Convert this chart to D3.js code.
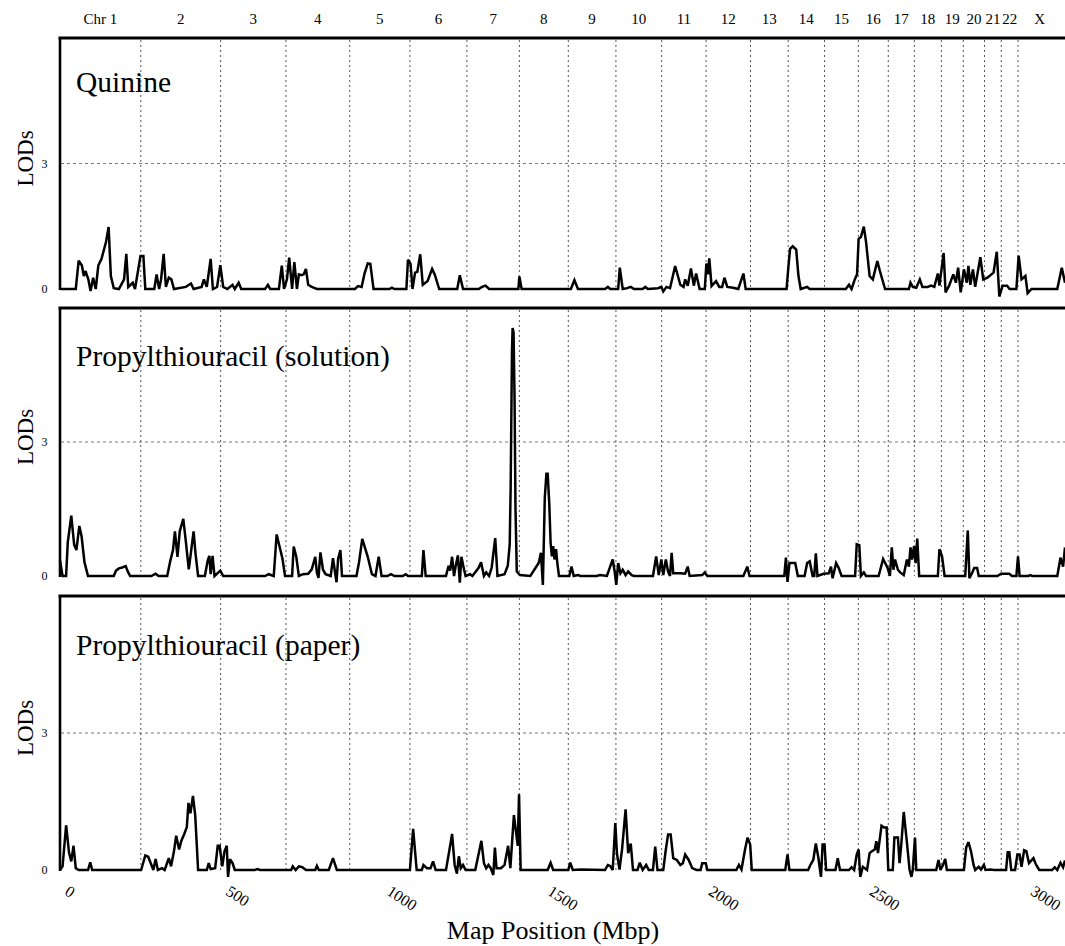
<html>
<style>
  body { margin: 0; background: #fff; }
  svg { display: block; background: #fff; }
  text { font-family: "Liberation Serif", "DejaVu Serif", serif; fill: #000; }
  .trace { fill: none; stroke: #000; stroke-width: 2.5px; stroke-linejoin: miter; stroke-miterlimit: 3; }
  .chrLine { stroke: #555; stroke-width: 1px; stroke-dasharray: 2,3; }
  .lodGrid { stroke: #777; stroke-width: 1px; stroke-dasharray: 3,3; }
  .frame { stroke: #000; fill: none; }
</style>
<script src="https://d3js.org/d3.v7.min.js"></script>
<body>
<div id="container"></div>
<script>

// chromosome ends on the map (Mbp)
const chrEnds = [241, 489, 692, 890, 1077, 1254, 1417, 1569, 1717, 1859, 1997, 2135,
                 2252, 2365, 2470, 2563, 2644, 2728, 2796, 2862, 2914, 2966, 3100];
const chrNames = ["Chr 1","2","3","4","5","6","7","8","9","10","11","12","13","14","15",
                  "16","17","18","19","20","21","22","X"];
const xTicks = [0, 500, 1000, 1500, 2000, 2500, 3000];
const yTicks = [0, 3];
const panelTitles = ["Quinine", "Propylthiouracil (solution)", "Propylthiouracil (paper)"];

// LOD traces: [map position Mbp, LOD]
const quinine = [
[-10,0],[39,0],[48,0.68],[58,0.56],[64,0.31],[69,0.43],[78,0.23],[85,-0.05],[93,0.27],[101,0],[109,0.56],[119,0.72],[133,1.13],[141,1.48],[148,0.31],[157,0.02],[173,0],[189,0.23],[196,0.84],[202,0.05],[216,0.15],[223,0],[240,0.79],[249,0.79],[255,0],[283,0],[290,0.35],[298,0],[304,0.23],[312,0.84],[319,0.05],[328,0.27],[336,0.23],[344,0],[381,0.05],[397,0.13],[405,0],[430,0.05],[437,0.23],[446,0.05],[458,0.72],[465,0],[478,0.05],[488,0.57],[497,0.05],[510,0],[526,0.1],[533,0],[545,0.15],[553,0],[627,0],[636,0.1],[643,0],[670,0],[679,0.56],[686,0],[695,0.23],[702,0.75],[711,0],[718,0.64],[726,0],[732,0.35],[740,0.33],[747,0.35],[754,0.48],[761,0.1],[772,0.05],[788,0],[906,0],[916,0.07],[927,0.05],[936,0.37],[946,0.61],[954,0.6],[964,0],[1013,0],[1021,0.03],[1029,0],[1066,0],[1071,0.7],[1079,0.6],[1085,0],[1093,0.39],[1100,0.41],[1109,0.83],[1117,0.1],[1125,0.15],[1132,0.19],[1146,0.48],[1154,0.35],[1168,0],[1224,0],[1232,0.33],[1242,0],[1291,0],[1301,0.05],[1312,0.08],[1323,0],[1414,0],[1417,0.3],[1424,0],
[1577,0],[1588,0.21],[1599,0],[1683,0],[1692,0.05],[1699,0],[1724,0],[1729,0.51],[1738,0],[1752,0.02],[1763,0.05],[1773,0],[1800,0],[1808,0.05],[1816,0],[1848,0.02],[1858,0.05],[1864,-0.06],[1874,0.05],[1885,0.02],[1901,0.55],[1917,0.1],[1927,0.05],[1932,0.23],[1940,0.08],[1950,0.49],[1959,0.08],[1966,0.37],[1977,0],[1993,0],[1998,0.61],[2003,0.35],[2007,0.73],[2014,0.07],[2028,0.19],[2038,0.05],[2047,0.05],[2054,0.27],[2063,0.05],[2081,0.03],[2097,0],[2113,0.37],[2120,0],[2247,0],[2253,0.55],[2258,0.96],[2266,1.02],[2277,0.94],[2284,0.31],[2291,0],[2303,0.03],[2311,0.05],[2319,0],[2431,0],[2441,0.1],[2449,0],[2459,0.23],[2466,0.35],[2471,1.2],[2478,1.24],[2487,1.49],[2494,1.12],[2505,0.31],[2515,0.23],[2529,0.67],[2537,0.43],[2553,0],[2627,0],[2632,0.15],[2639,0.05],[2650,0.03],[2661,0.23],[2669,0.05],[2685,0.05],[2696,0.08],[2706,0.05],[2717,0.37],[2722,0.08],[2735,0.86],[2741,-0.08],[2752,0.08],[2765,0.35],[2773,0.15],[2780,0.51],[2788,-0.08],[2798,0.47],[2807,0.15],[2812,0.55],[2818,0.1],[2826,0.47],[2833,0.05],[2849,0.76],[2858,0.23],[2871,0.27],[2890,0.39],[2900,0.89],[2908,-0.18],[2918,0.08],[2932,0.08],[2940,0],[2961,0],[2968,0.8],[2977,0.23],[2989,0.31],[2996,-0.1],[3008,0],[3088,0],[3102,0.51],[3112,0.15]
];

const ptcSolution = [
[-10,0.35],[-2,0],[9,0],[14,0.74],[25,1.35],[34,0.7],[41,0.58],[50,1.12],[57,0.89],[66,0.31],[77,0],[157,0],[164,0.12],[173,0.17],[183,0.19],[194,0.22],[202,0.08],[208,0],[274,0],[287,0.05],[296,0],[323,0],[333,0.35],[341,0.58],[347,1.0],[355,0.43],[362,1.0],[373,1.28],[381,0.77],[390,0.15],[397,0.54],[405,1.0],[411,0.5],[419,0],[440,0],[449,0.35],[454,0.45],[458,0.04],[464,0.45],[470,0],[488,0.12],[497,0],[627,0],[638,0.04],[654,0],[663,0.93],[672,0.66],[681,0.39],[689,0],[711,0],[716,0.66],[724,0.43],[732,0],[745,0.04],[761,0.05],[772,0.15],[783,0.43],[788,0.08],[793,-0.04],[799,0.53],[807,0.14],[815,0.04],[831,0],[838,0.4],[843,0.15],[849,-0.14],[854,0.39],[861,0.58],[866,0],[911,0],[919,0.31],[929,0.83],[938,0.62],[946,0.43],[959,0.04],[970,0],[980,0.43],[989,0],[1007,0],[1018,0.04],[1029,0],[1055,0],[1064,0.04],[1071,0],[1114,0],[1119,0.58],[1126,0],[1189,0],[1197,0.23],[1202,0.12],[1208,0.43],[1214,0],[1219,0.22],[1226,0.46],[1232,-0.15],[1237,0.43],[1245,0.15],[1250,0],[1264,0.04],[1271,0],[1291,0.19],[1298,0.31],[1307,0],[1314,0.08],[1323,0],[1331,0.19],[1342,0.85],[1349,0],[1371,0.04],[1381,0.23],[1387,0.7],[1390,2.0],[1394,5.0],[1396,5.55],[1399,5.45],[1402,4.0],[1405,1.5],[1409,0.1],[1419,0.02],[1451,0],[1477,0.29],[1484,0.52],[1490,-0.2],[1496,1.75],[1501,2.29],[1505,2.29],[1510,1.6],[1514,0.75],[1518,0.44],[1522,0.67],[1526,0.37],[1531,0.6],[1535,0.29],[1540,0],[1572,0],[1579,0.21],[1586,0],[1599,0.02],[1607,0],[1657,0],[1667,0.02],[1689,0],[1699,0.21],[1707,0.37],[1713,0.1],[1718,-0.2],[1724,0.29],[1731,0.06],[1738,0.14],[1747,0.02],[1755,0.1],[1766,0.02],[1773,0],[1832,0],[1842,0.44],[1850,0.02],[1858,0.37],[1864,0.02],[1872,0.37],[1879,0.1],[1885,0],[1890,0.52],[1895,0.06],[1917,0.06],[1932,0.05],[1940,0.21],[1946,0],[1985,0.02],[1993,0.08],[2001,0],[2113,0],[2125,0.21],[2132,0],[2240,0],[2245,0.41],[2250,-0.13],[2256,0.29],[2266,0.29],[2274,0.29],[2282,0],[2303,0],[2311,0.29],[2319,0.33],[2328,0],[2333,0],[2338,0.51],[2343,0],[2362,0.05],[2378,0.06],[2385,0.21],[2390,-0.05],[2401,0.29],[2409,0.18],[2418,0],[2460,0],[2465,0.71],[2473,0.69],[2478,0],[2487,0.08],[2494,0],[2533,0],[2547,0.38],[2561,0.18],[2568,0],[2574,0.64],[2579,0.14],[2584,0.37],[2593,0.14],[2600,0.08],[2611,0.02],[2621,0.37],[2627,0.21],[2632,0.64],[2637,0.37],[2643,0.67],[2648,0.29],[2653,0.84],[2659,0],[2717,0],[2722,0.6],[2730,0.44],[2738,0],[2802,0],[2810,1.02],[2815,-0.05],[2823,0.06],[2830,0.18],[2839,0.18],[2844,0],[2902,0],[2913,0.05],[2939,0.05],[2947,0],[2961,0],[2966,0.44],[2971,0],[2998,0],[3005,0.02],[3010,0],[3088,0],[3098,0.41],[3106,0.21],[3112,0.64]
];

const ptcPaper = [
[-10,0],[-2,0.08],[9,0.98],[18,0.38],[25,0.19],[32,0.53],[39,0.04],[48,0],[77,0],[84,0.17],[90,0],[242,0],[255,0.32],[264,0.29],[274,0.11],[280,0],[287,0.24],[294,0],[307,0.04],[315,0],[328,0.26],[335,0.08],[344,0.41],[351,0.75],[360,0.45],[367,0.64],[376,0.79],[384,0.94],[389,1.47],[395,1.24],[403,1.62],[410,1.2],[419,0],[446,0],[452,0.15],[458,0.02],[472,0.04],[480,0.53],[486,0.53],[494,0.08],[501,0.41],[508,0.53],[512,-0.15],[518,0.24],[526,0.15],[533,0],[595,0],[604,0.02],[611,0],[708,0],[713,0.08],[722,0],[732,0.08],[743,0.06],[754,0],[783,0],[788,0.09],[794,0],[825,0],[838,0.26],[850,0],[1077,0],[1087,0.9],[1098,0],[1114,0],[1119,0.11],[1130,0.04],[1141,0.04],[1149,0.19],[1157,0],[1189,0],[1200,0.45],[1208,0.79],[1216,0.11],[1223,-0.08],[1229,0.3],[1235,0.04],[1242,0.11],[1250,0],[1280,0],[1299,0.64],[1307,0.15],[1314,0.04],[1321,0.11],[1328,0.04],[1336,-0.11],[1341,0.49],[1346,0.04],[1360,0.04],[1371,0.11],[1382,0.53],[1389,0.04],[1400,1.2],[1406,0.87],[1412,0.53],[1416,1.66],[1421,0],[1505,0],[1514,0.16],[1522,0],[1569,0],[1575,0.16],[1583,0],[1609,0.01],[1683,0],[1692,0.11],[1699,0.09],[1707,0],[1715,1.03],[1720,0.37],[1728,0.01],[1736,0.45],[1747,1.33],[1755,0.37],[1763,0.58],[1770,0],[1784,0],[1791,0.16],[1800,0],[1811,0.11],[1819,0],[1832,0],[1839,0.51],[1846,0],[1864,0],[1872,0.45],[1879,0.78],[1887,0.78],[1895,0.26],[1906,0.22],[1917,0.11],[1925,0.15],[1932,0.34],[1943,0.22],[1954,0.04],[1967,0],[1980,0],[1985,0.15],[1996,0.15],[2001,0],[2091,0],[2099,0.11],[2107,0.01],[2118,0.45],[2126,0.71],[2134,0.56],[2139,0],[2243,0],[2250,0.34],[2256,0],[2314,0],[2321,0.11],[2330,0.22],[2338,0.58],[2346,0.26],[2351,0],[2354,-0.15],[2359,0.56],[2365,0.56],[2370,0],[2399,0],[2406,0.26],[2413,0],[2441,0],[2449,0.06],[2457,0],[2465,0.34],[2471,0.45],[2476,-0.15],[2484,0.07],[2497,0],[2505,0.37],[2512,0.41],[2521,0.45],[2526,0.63],[2531,0.37],[2542,0.97],[2550,0.93],[2558,0.93],[2563,0],[2577,0],[2582,0.71],[2593,0.71],[2598,0.15],[2603,0.52],[2611,1.27],[2621,0.6],[2629,0.01],[2635,-0.15],[2639,0],[2646,0.71],[2650,0],[2712,0],[2719,0.22],[2725,0],[2733,0.11],[2740,0.24],[2745,0],[2798,0],[2805,0.49],[2812,0.61],[2820,0.41],[2828,0.11],[2833,0],[2844,0.07],[2851,0.01],[2860,0.11],[2865,0],[2881,0.01],[2892,0],[2929,0],[2934,0.39],[2939,0.39],[2945,0],[2957,0],[2964,0.34],[2971,0.34],[2977,0.07],[2985,0.43],[2992,0.41],[3000,0.15],[3014,0.26],[3021,0.13],[3032,0],[3072,0],[3080,0.06],[3088,0],[3098,0.16],[3106,0.06],[3112,0.21]
];

const series = [quinine, ptcSolution, ptcPaper];

const W = 1065, H = 946;
// panel pixel layout (top edge, LOD 0 line)
const layout = [ {top: 38, zero: 289}, {top: 308, zero: 576}, {top: 596, zero: 870} ];

const svg = d3.select("#container").append("svg")
    .attr("width", W).attr("height", H);

const x = d3.scaleLinear().domain([-10, 3112]).range([60, W]);

// chromosome labels on top
const chrStarts = [-10].concat(chrEnds.slice(0, -1));
svg.append("g").selectAll("text")
    .data(chrNames)
    .join("text")
    .attr("x", (d, i) => x((chrStarts[i] + chrEnds[i]) / 2))
    .attr("y", 24)
    .attr("text-anchor", "middle")
    .style("font-size", "15px")
    .text(d => d);

layout.forEach((p, i) => {
    const y = d3.scaleLinear().domain([0, 6]).range([p.zero, p.top]);
    const g = svg.append("g");

    // LOD 3 grid
    g.append("line").attr("class", "lodGrid")
        .attr("x1", 61).attr("x2", W)
        .attr("y1", y(3)).attr("y2", y(3));

    // chromosome boundaries
    g.selectAll(".chrLine")
        .data(chrEnds.slice(0, -1))
        .join("line").attr("class", "chrLine")
        .attr("x1", d => x(d)).attr("x2", d => x(d))
        .attr("y1", p.top + 2).attr("y2", p.zero);

    // LOD trace
    const line = d3.line().x(d => x(d[0])).y(d => y(d[1]));
    g.append("path").attr("class", "trace").attr("d", line(series[i]));

    // frame: top and left
    g.append("line").attr("class", "frame").style("stroke-width", 3)
        .attr("x1", 58.5).attr("x2", W).attr("y1", p.top).attr("y2", p.top);
    g.append("line").attr("class", "frame").style("stroke-width", 2.6)
        .attr("x1", 60).attr("x2", 60).attr("y1", p.top).attr("y2", p.zero + 1);

    // y axis
    const yaxis = d3.axisLeft(y).tickValues(yTicks).tickSize(0).tickPadding(12.5)
        .tickFormat(d3.format("d"));
    g.append("g").attr("transform", "translate(60,0)").call(yaxis)
        .call(a => a.select(".domain").remove())
        .selectAll("text")
        .style("font-family", "Liberation Serif, serif")
        .style("font-size", "12px");

    g.append("text")
        .attr("transform", "translate(33," + (y(3) - 5) + ") rotate(-90)")
        .attr("text-anchor", "middle")
        .style("font-size", "23px")
        .text("LODs");

    g.append("text")
        .attr("x", 76).attr("y", y(4.7))
        .style("font-size", "29.5px")
        .text(panelTitles[i]);
});

// bottom axis with slanted labels
const xaxis = d3.axisBottom(x).tickValues(xTicks).tickSize(0).tickFormat(d3.format("d"));
svg.append("g").attr("transform", "translate(0," + layout[2].zero + ")")
    .call(xaxis)
    .call(a => a.select(".domain").remove())
    .selectAll("text")
    .attr("x", 0).attr("y", 0).attr("dy", 0)
    .attr("text-anchor", "start")
    .attr("transform", "translate(0,24) rotate(33)")
    .style("font-family", "Liberation Serif, serif")
    .style("font-size", "16px");

svg.append("text")
    .attr("x", 553).attr("y", 939)
    .attr("text-anchor", "middle")
    .style("font-size", "26px")
    .text("Map Position (Mbp)");

</script>
</body>
</html>
